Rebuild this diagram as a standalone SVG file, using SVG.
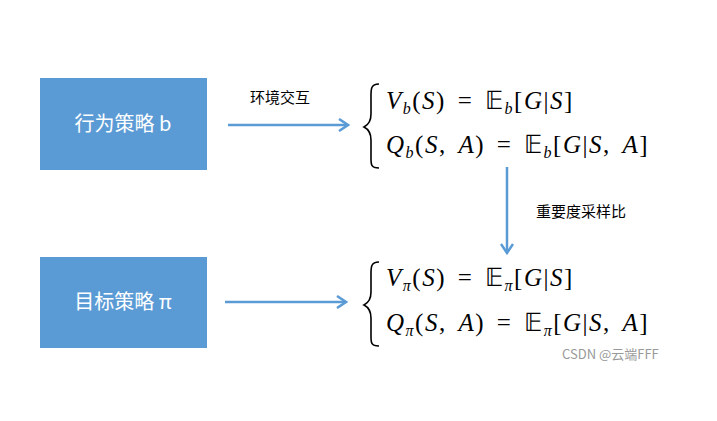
<svg xmlns="http://www.w3.org/2000/svg" width="717" height="421" viewBox="0 0 717 421">
<defs>
<style>
.box{fill:#5b9bd5}
.bt{font-family:"Noto Sans CJK SC","Liberation Sans",sans-serif;font-size:20px;fill:#fff;text-anchor:middle}
.lb{font-family:"Noto Sans CJK SC","Liberation Sans",sans-serif;font-size:15px;fill:#000}
.eq{font-family:"Liberation Serif",serif;font-size:25px;fill:#000;letter-spacing:1.5px;word-spacing:4px}
.it{font-style:italic}
.sub{font-size:16px}
.c{stroke:#5b9bd5;stroke-width:2.5;fill:none}
.br{stroke:#000;stroke-width:1.6;fill:none}
</style>
<marker id="ah" markerWidth="12" markerHeight="14" refX="10" refY="7" orient="auto" markerUnits="userSpaceOnUse">
<path d="M1,1 L10,7 L1,13" stroke="#5b9bd5" stroke-width="2.5" fill="none"/>
</marker>
</defs>
<rect width="717" height="421" fill="#fff"/>
<g id="node-b"><rect class="box" x="40" y="78" width="167" height="92"/><text class="bt" x="123" y="131">行为策略 b</text></g>
<g id="node-pi"><rect class="box" x="40" y="257" width="167" height="91"/><text class="bt" x="123" y="309">目标策略 π</text></g>
<g id="connectors">
<line class="c" x1="228" y1="125" x2="348" y2="125" marker-end="url(#ah)"/>
<line class="c" x1="225" y1="302" x2="346" y2="302" marker-end="url(#ah)"/>
<line class="c" x1="507" y1="167" x2="507" y2="253" marker-end="url(#ah)"/>
<text class="lb" x="250" y="103">环境交互</text>
<text class="lb" x="536" y="217">重要度采样比</text>
</g>
<g id="eq-b">
<path class="br" d="M379,84 C370,84 371,90 371,100 L371,114 C371,121 368,125 364,127 C368,129 371,133 371,140 L371,154 C371,164 370,168 379,168"/>
<text class="eq" x="386" y="109"><tspan class="it">V</tspan><tspan class="it sub" dy="5">b</tspan><tspan dy="-5">(</tspan><tspan class="it">S</tspan>) = 𝔼<tspan class="it sub" dy="5">b</tspan><tspan dy="-5">[</tspan><tspan class="it">G</tspan>|<tspan class="it">S</tspan>]</text>
<text class="eq" x="386" y="153"><tspan class="it">Q</tspan><tspan class="it sub" dy="5">b</tspan><tspan dy="-5">(</tspan><tspan class="it">S</tspan>, <tspan class="it">A</tspan>) = 𝔼<tspan class="it sub" dy="5">b</tspan><tspan dy="-5">[</tspan><tspan class="it">G</tspan>|<tspan class="it">S</tspan>, <tspan class="it">A</tspan>]</text>
</g>
<g id="eq-pi">
<path class="br" d="M379,262 C370,262 371,268 371,278 L371,292 C371,299 368,303 364,305 C368,307 371,311 371,318 L371,332 C371,342 370,346 379,346"/>
<text class="eq" x="386" y="286"><tspan class="it">V</tspan><tspan class="it sub" dy="5">π</tspan><tspan dy="-5">(</tspan><tspan class="it">S</tspan>) = 𝔼<tspan class="it sub" dy="5">π</tspan><tspan dy="-5">[</tspan><tspan class="it">G</tspan>|<tspan class="it">S</tspan>]</text>
<text class="eq" x="386" y="331"><tspan class="it">Q</tspan><tspan class="it sub" dy="5">π</tspan><tspan dy="-5">(</tspan><tspan class="it">S</tspan>, <tspan class="it">A</tspan>) = 𝔼<tspan class="it sub" dy="5">π</tspan><tspan dy="-5">[</tspan><tspan class="it">G</tspan>|<tspan class="it">S</tspan>, <tspan class="it">A</tspan>]</text>
</g>
<text x="562" y="359" font-family="Noto Sans CJK SC,Liberation Sans,sans-serif" font-size="13" fill="#999">CSDN @云端FFF</text>
</svg>
